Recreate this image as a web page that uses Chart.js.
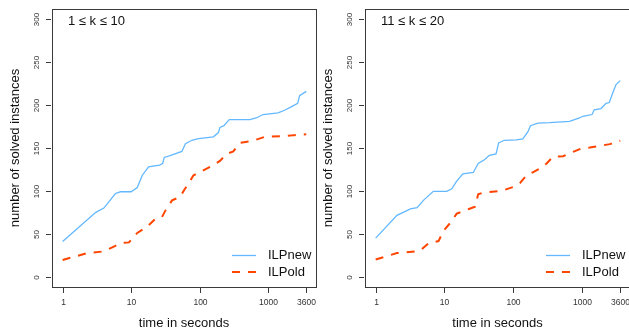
<!DOCTYPE html>
<html>
<head>
<meta charset="utf-8">
<script src="https://cdn.jsdelivr.net/npm/chart.js@4/dist/chart.umd.min.js"></script>
<style>
html, body { margin: 0; padding: 0; width: 629px; height: 330px; overflow: hidden; background: #fff; }
canvas { position: absolute; top: 0; }
#leftChart { left: 0; }
#rightChart { left: 310px; }
</style>
</head>
<body>
<canvas id="leftChart" width="320" height="330" style="width:320px;height:330px"></canvas>
<canvas id="rightChart" width="322" height="330" style="width:322px;height:330px"></canvas>
<script>
// tick labels
var xTicks = [1, 10, 100, 1000, 3600];
var yTicks = [0, 50, 100, 150, 200, 250, 300];
var seriesNames = ['ILPnew', 'ILPold'];

// 1 <= k <= 10
var timeNewA   = [1, 3.05, 4, 5.9, 7, 10, 12.3, 14.5, 18, 26, 28.8, 30.5, 37, 55, 62, 77, 96, 159, 188, 198, 226, 271, 540, 670, 846, 1395, 1740, 2170, 2700, 2880, 3600];
var solvedNewA = [41, 75, 80, 97, 99, 99, 104, 118, 128, 130, 132, 139, 141, 146, 155, 159, 161, 163, 168, 174, 176, 183, 183, 185, 189, 191, 194, 198, 202, 211, 216];
var timeOldA   = [1, 2.3, 4, 5.9, 7.4, 9.3, 12.3, 17, 22.6, 28.2, 31.6, 39.6, 52, 59.5, 68.8, 81, 108, 159, 198, 248, 310, 388, 605, 890, 1840, 2420, 3600];
var solvedOldA = [19.5, 27.5, 29.5, 36, 39.5, 40, 51, 58, 67.5, 69.5, 77, 89, 93, 101, 108.5, 118, 123, 130, 135, 143, 146, 156, 158.5, 163, 164, 165, 166];

// 11 <= k <= 20
var timeNewB   = [1, 2.04, 2.84, 3.2, 4, 4.95, 6.9, 10.8, 12.8, 15, 18.5, 26.3, 31, 38.6, 45, 56.3, 61.4, 74, 111, 138, 164, 178, 229, 338, 660, 920, 1030, 1400, 1510, 1890, 2240, 2500, 2800, 3130, 3600];
var solvedNewB = [45, 71.5, 77, 79, 80.5, 89, 99.5, 99.5, 102.5, 111, 120, 121.5, 132, 136.5, 141.5, 143, 156, 159, 159.5, 160.5, 169, 176, 179, 179.5, 181, 185, 187, 189, 194.5, 196, 202, 203, 214, 224, 228.5];
var timeOldB   = [1, 2.04, 4, 4.45, 5.9, 8.2, 9.8, 12.4, 15.1, 23.8, 27.8, 31, 36.6, 67.6, 100, 125, 156, 196, 245, 306, 381, 533, 745, 982, 1300, 1820, 2540, 3600];
var solvedOldB = [20, 27.5, 29.5, 30.5, 39, 41.5, 54, 63.5, 73.5, 79.5, 81.5, 96, 98, 100, 104.5, 109, 118, 122, 126, 132, 140, 140.5, 145.5, 149.5, 150.5, 152.5, 154.5, 158.5];

var blue = '#63B8FF';
var red = '#FF4500';
var fontFamily = '"Liberation Sans", Arial, Helvetica, sans-serif';

function toPoints(xs, ys) {
    var pts = [];
    for (var i = 0; i < xs.length; i++) {
        pts.push({ x: xs[i], y: ys[i] });
    }
    return pts;
}

// R-style frame, axes and legend drawn from the chart's scales
var rAxes = {
    id: 'rAxes',
    afterDraw: function (chart, args, opts) {
        var ctx = chart.ctx;
        var a = chart.chartArea;
        var xs = chart.scales.x;
        var ys = chart.scales.y;
        var L = Math.round(a.left), T = Math.round(a.top);
        var R = Math.round(a.right), B = Math.round(a.bottom);
        ctx.save();

        ctx.strokeStyle = '#3a3a3a';
        ctx.lineWidth = 1;
        ctx.strokeRect(L + 0.5, T + 0.5, R - L, B - T);

        ctx.fillStyle = '#333';
        ctx.font = '8.5px ' + fontFamily;
        ctx.textAlign = 'center';
        ctx.textBaseline = 'middle';

        // x ticks
        xTicks.forEach(function (v) {
            var px = Math.round(xs.getPixelForValue(v)) + 0.5;
            ctx.beginPath();
            ctx.moveTo(px, B + 1);
            ctx.lineTo(px, B + 6);
            ctx.stroke();
            ctx.fillText(String(v), px, B + 16);
        });

        // y ticks
        yTicks.forEach(function (v) {
            var py = Math.round(ys.getPixelForValue(v)) + 0.5;
            ctx.beginPath();
            ctx.moveTo(L - 1, py);
            ctx.lineTo(L - 6, py);
            ctx.stroke();
            ctx.save();
            ctx.translate(L - 15, py);
            ctx.rotate(-Math.PI / 2);
            ctx.font = '8px ' + fontFamily;
            ctx.fillText(String(v), 0, 0);
            ctx.restore();
        });

        // axis titles
        ctx.fillStyle = '#111';
        ctx.font = '13px ' + fontFamily;
        ctx.fillText('time in seconds', (L + R) / 2, 323);
        ctx.save();
        ctx.translate(L - 37, (T + B) / 2);
        ctx.rotate(-Math.PI / 2);
        ctx.fillText('number of solved instances', 0, 0);
        ctx.restore();

        // panel label
        ctx.textAlign = 'left';
        ctx.fillText(opts.title, L + 16, T + 12);

        // legend
        var ly = [B - 32, B - 15];
        ctx.lineWidth = 1.3;
        ctx.strokeStyle = blue;
        ctx.beginPath();
        ctx.moveTo(R - 84, ly[0] + 0.5);
        ctx.lineTo(R - 60, ly[0] + 0.5);
        ctx.stroke();
        ctx.lineWidth = 2;
        ctx.strokeStyle = red;
        ctx.setLineDash([8, 8]);
        ctx.beginPath();
        ctx.moveTo(R - 84, ly[1]);
        ctx.lineTo(R - 60, ly[1]);
        ctx.stroke();
        ctx.setLineDash([]);
        ctx.fillStyle = '#111';
        ctx.fillText(seriesNames[0], R - 48, ly[0]);
        ctx.fillText(seriesNames[1], R - 48, ly[1]);

        ctx.restore();
    }
};

function makeChart(id, title, newPts, oldPts, pad) {
    var canvas = document.getElementById(id).getContext('2d');
    return new Chart(canvas, {
        type: 'line',
        data: {
            datasets: [{
                label: seriesNames[0],
                data: newPts,
                borderColor: blue,
                borderWidth: 1.3,
                pointRadius: 0,
                tension: 0,
                fill: false
            }, {
                label: seriesNames[1],
                data: oldPts,
                borderColor: red,
                borderWidth: 2,
                borderDash: [8, 8],
                pointRadius: 0,
                tension: 0,
                fill: false
            }]
        },
        options: {
            responsive: false,
            animation: false,
            events: [],
            layout: { padding: pad },
            plugins: {
                legend: { display: false },
                tooltip: { enabled: false },
                rAxes: { title: title }
            },
            scales: {
                x: { type: 'logarithmic', min: 0.7208, max: 4995, display: false },
                y: { type: 'linear', min: -12, max: 312, display: false }
            }
        },
        plugins: [rAxes]
    });
}

makeChart('leftChart', '1 \u2264 k \u2264 10',
    toPoints(timeNewA, solvedNewA), toPoints(timeOldA, solvedOldA),
    { left: 52, top: 9, right: 4, bottom: 43 });
makeChart('rightChart', '11 \u2264 k \u2264 20',
    toPoints(timeNewB, solvedNewB), toPoints(timeOldB, solvedOldB),
    { left: 55, top: 9, right: 2, bottom: 43 });
</script>
</body>
</html>
